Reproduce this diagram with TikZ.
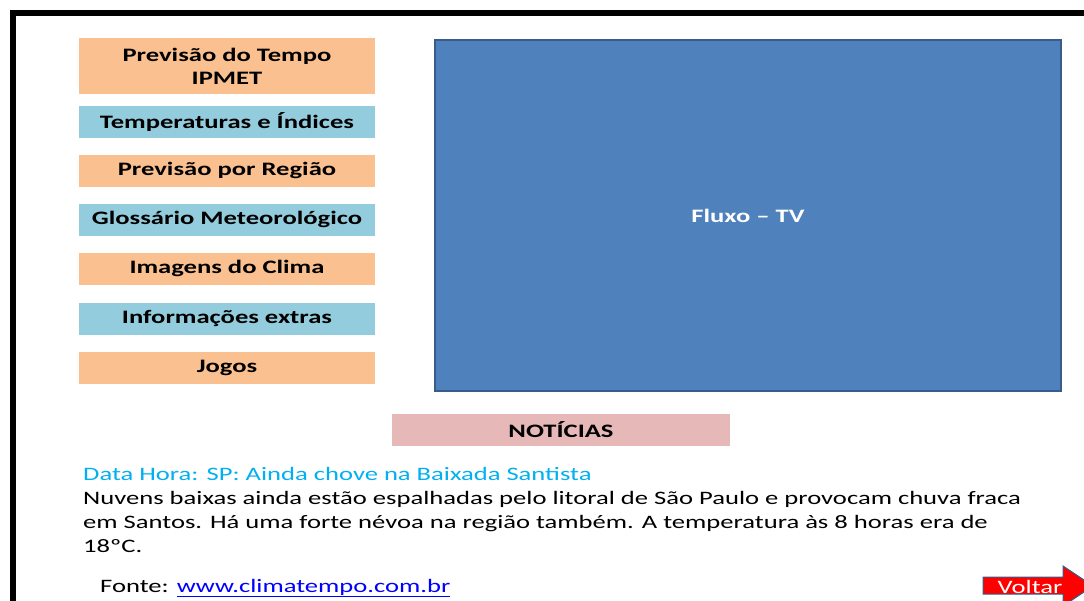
\documentclass[tikz,border=0pt]{standalone}
\usepackage{fontspec}
\setmainfont{Carlito}[FakeStretch=1.4]
\usepackage{tikz}
\usetikzlibrary{positioning}

\definecolor{menuorange}{HTML}{FAC090}
\definecolor{menublue}{HTML}{93CDDD}
\definecolor{newspink}{HTML}{E6B9B8}
\definecolor{tvblue}{HTML}{4F81BD}
\definecolor{tvedge}{HTML}{385D8A}
\definecolor{headcyan}{HTML}{00B0F0}
\definecolor{linkblue}{HTML}{0000FF}

\begin{document}
\begin{tikzpicture}[
    x=1pt, y=-1pt,
    menu/.style={rectangle, inner sep=0pt, outer sep=0pt, minimum width=296pt, minimum height=31.7pt, align=center, font=\fontsize{19}{23}\selectfont\bfseries},
    menuA/.style={menu, fill=menuorange},
    menuB/.style={menu, fill=menublue},
    body/.style={inner sep=0pt, anchor=base west, font=\fontsize{19}{24}\selectfont}
  ]
    \useasboundingbox (0,0) rectangle (1084,601);
    %--- frame, open at right and bottom
    \draw[line width=6pt] (13,610) -- (13,13) -- (1090,13);

    %--- menu column
    \node[menuA, minimum height=56pt, anchor=north west] (tempo) at (79,38) {Previsão do Tempo\\IPMET};
    \node[menuB, below=12pt of tempo] (indices) {Temperaturas e Índices};
    \node[menuA, below=17.3pt of indices] (regiao) {Previsão por Região};
    \node[menuB, below=17.3pt of regiao] (glossario) {Glossário Meteorológico};
    \node[menuA, below=17.3pt of glossario] (imagens) {Imagens do Clima};
    \node[menuB, below=18.3pt of imagens] (extras) {Informações extras};
    \node[menuA, below=17.3pt of extras] (jogos) {Jogos};

    %--- TV stream
    \node[rectangle, fill=tvblue, draw=tvedge, line width=2pt, minimum width=626pt, minimum height=351pt, anchor=north west, text=white, font=\fontsize{19}{23}\selectfont\bfseries] (tv) at (434,39) {Fluxo -- TV};

    %--- news
    \node[menu, fill=newspink, minimum width=338pt, anchor=north west] (noticias) at (392,414) {NOTÍCIAS};
    \node[body, text=headcyan] (manchete) at (83,480) {Data Hora: SP: Ainda chove na Baixada Santista};
    \node[body] (texto1) at (83,504) {Nuvens baixas ainda estão espalhadas pelo litoral de São Paulo e provocam chuva fraca};
    \node[body] (texto2) at (83,528) {em Santos. Há uma forte névoa na região também. A temperatura às 8 horas era de};
    \node[body] (texto3) at (83,552) {18ºC.};
    \node[body] (fonte) at (100,592) {Fonte: \textcolor{linkblue}{\underline{www.climatempo.com.br}}};

    %--- back button
    \fill[red, draw=tvedge, line width=1pt] (983,577) -- (1063,577) -- (1063,566) -- (1093,586) -- (1063,606) -- (1063,594) -- (983,594) -- cycle;
    \node[anchor=base, text=white, inner sep=0pt, font=\fontsize{19}{23}\selectfont] (voltar) at (1030,593) {Voltar};
\end{tikzpicture}
\end{document}
